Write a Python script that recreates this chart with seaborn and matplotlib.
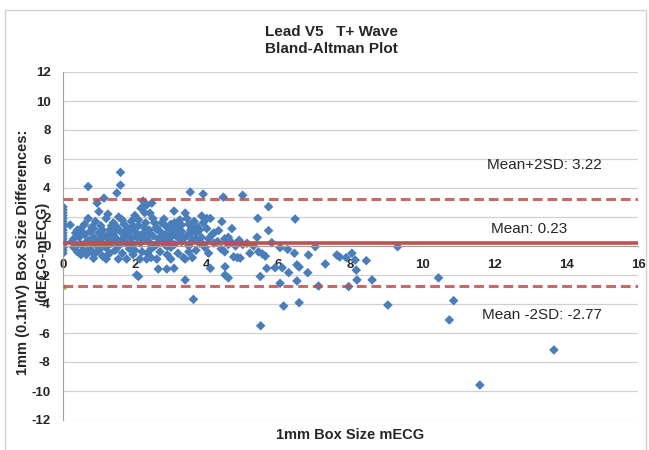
import matplotlib
matplotlib.use("Agg")
import matplotlib.pyplot as plt
import seaborn as sns
import pandas as pd
from matplotlib.patches import Rectangle

# 数据：平均值(mECG) 与 差值(dECG-mECG)
x_zero = [0] * 17
y_zero = [2.7, 2.5, 2.3, 2.1, 1.9, 1.7, 1.5, 1.3, 1.1, 0.9, 0.7, 0.5, 0.3, 0.1, -0.1, -0.3, -0.5]

x_cluster = [0.2, 0.25, 0.3, 0.35, 0.4, 0.45, 0.5, 0.5, 0.55, 0.6, 0.6, 0.65, 0.7, 0.7, 0.75, 0.75,
             0.8, 0.8, 0.85, 0.85, 0.9, 0.9, 0.95, 0.95, 1.0, 1.0, 1.0,
             1.05, 1.05, 1.1, 1.14, 1.15, 1.2, 1.2, 1.25, 1.25, 1.3, 1.3, 1.35, 1.4, 1.4, 1.45,
             1.5, 1.5, 1.5, 1.54, 1.55, 1.6, 1.6, 1.6, 1.65, 1.65, 1.7, 1.7, 1.75, 1.77, 1.8, 1.8,
             1.85, 1.9, 1.9, 1.95, 1.95, 2.0, 2.0,
             2.05, 2.1, 2.05, 2.1, 2.14, 2.15, 2.17, 2.2, 2.23, 2.25, 2.27, 2.3, 2.33, 2.33, 2.35,
             2.4, 2.42, 2.45, 2.47, 2.5, 2.5, 2.55, 2.6, 2.61, 2.65, 2.65, 2.7, 2.7, 2.75, 2.8,
             2.81, 2.85, 2.89, 2.9, 2.95, 2.95, 3.0, 3.0,
             3.05, 3.09, 3.09, 3.1, 3.15, 3.2, 3.2, 3.25, 3.3, 3.3, 3.35, 3.4, 3.4, 3.45, 3.5,
             3.5, 3.54, 3.55, 3.6, 3.6, 3.63, 3.65, 3.7, 3.7, 3.75, 3.8, 3.86, 3.85, 3.9, 3.9,
             3.95, 4.0, 4.0,
             4.05, 4.1, 4.1, 4.15, 4.2, 4.33, 4.42, 4.46, 4.5, 4.5, 4.51, 4.51, 4.56, 4.6, 4.6,
             4.67, 4.75, 4.8, 4.85, 4.93, 5.0, 5.0,
             0.3, 0.4, 0.55, 0.65, 0.7, 0.8, 0.9, 1.1, 1.15, 1.25, 1.35, 1.45, 1.55, 1.6, 1.75,
             1.85, 1.95, 2.0, 2.1, 2.2, 2.25, 2.35, 2.4, 2.55, 2.6, 2.75, 2.85, 2.9, 3.0, 3.1,
             3.2, 3.35, 3.45, 3.5, 3.6, 3.7, 3.8, 3.9, 4.05, 4.2, 4.3, 4.4, 4.6, 4.7, 4.9,
             1.2, 2.45, 3.0, 3.4, 0.5,
             0.35, 0.6, 0.85, 1.05, 1.3, 1.45, 1.7, 1.9, 2.15, 2.4, 2.6, 2.85, 3.15, 3.3, 3.55]
y_cluster = [1.45, 0.3, -0.1, 0.9, -0.4, 0.6, 1.2, 0.1, -0.3, 0.8, 1.5, -0.6, 4.1, 0.4, 1.0, -0.2,
             0.2, 1.3, -0.85, 0.6, -0.5, 1.7, 2.96, 0.0, 2.37, 0.9, -0.3,
             1.4, 0.3, -0.7, 3.3, 0.7, 1.9, -0.1, 2.2, 0.5, 1.1, -0.5, 0.2, 1.6, 0.8, -0.3,
             3.65, 1.3, 0.4, -0.9, 0.0, 5.08, 4.2, 1.0, 1.8, -0.5, 0.6, 1.5, 0.2, -0.9, 1.2, 0.9,
             -0.2, 0.5, 1.7, 0.1, -0.6, 1.0, 2.1,
             -2.0, -2.1, 0.6, 1.4, -0.9, 0.2, 2.6, -0.4, 3.1, 0.9, 2.3, 1.6, 2.83, -0.9, 0.4,
             1.1, 2.27, -0.2, 2.96, 0.7, 1.9, 0.0, 1.3, -0.9, -1.59, 0.5, 1.0, -0.4, 1.6, 0.2,
             1.86, 0.8, -1.59, -0.6, 1.2, 0.4, 1.5, -0.1,
             0.9, 2.41, -1.54, 0.1, 1.3, -0.5, 0.6, 1.8, 0.3, 1.0, -0.8, 2.27, -2.34, 0.7, 1.5,
             0.0, 3.72, 1.1, -0.8, 0.4, -3.68, 1.7, 0.9, -0.3, 1.3, 0.2, 2.07, 0.6, 3.58, 1.6,
             -0.1, 1.9, 1.2,
             0.5, 1.9, -1.54, 0.8, 0.2, 1.06, 1.68, 3.37, 0.5, -0.4, -1.43, -2.0, 0.3, -2.2, 0.1,
             0.3, -0.75, 0.0, -0.8, -0.83, 3.5, 0.1,
             0.5, 1.1, 0.9, 0.2, 1.9, -0.4, 0.4, 1.1, 0.0, -0.6, 1.4, 0.6, 2.0, 0.3, 1.1,
             0.7, 1.4, -0.3, 1.8, 0.6, 1.3, -0.5, 0.8, 1.6, 0.1, 0.5, 1.4, 0.0, 0.6, 1.6,
             1.1, 0.5, 1.9, -0.4, 1.3, 0.5, 1.1, 0.1, -0.5, 0.9, 0.3, -0.2, 0.6, 1.2, 0.4,
             -0.9, -0.8, -0.9, -0.9, -0.6,
             0.0, 0.15, 1.2, 0.55, 0.85, 1.05, 0.35, 1.25, 0.75, 0.25, 1.15, 0.05, 0.7, 1.45, 0.85]

x_tail = [5.12, 5.2, 5.3, 5.4, 5.42, 5.44, 5.49, 5.5, 5.55, 5.63, 5.67, 5.72, 5.72, 5.81, 5.9,
          6.04, 6.04, 6.1, 6.14, 6.25, 6.28, 6.44, 6.46, 6.51, 6.51, 6.57, 6.57, 6.81, 6.83,
          7.02, 7.11, 7.3, 7.62, 7.7, 7.88, 7.95, 8.04, 8.13, 8.16, 8.18, 8.44, 8.6, 9.04,
          9.31, 10.45, 10.75, 10.87, 11.6, 13.66]
y_tail = [0.19, -0.5, 0.0, 0.6, 1.91, -0.4, -2.1, -5.5, -0.55, -0.7, -1.54, 2.71, 1.06, 0.23, -1.5,
          -0.11, -2.57, -1.5, -4.14, -0.23, -1.84, -0.5, 1.86, -1.3, -2.41, -1.45, -3.91, -1.84, -0.62,
          -0.05, -2.76, -1.24, -0.62, -0.76, -0.8, -2.8, -0.5, -0.97, -1.66, -2.34, -1.01, -2.34, -4.07,
          -0.05, -2.2, -5.1, -3.77, -9.59, -7.17]

mean_diff = 0.23
upper_loa = 3.22
lower_loa = -2.77

df = pd.DataFrame({
    "mECG": x_zero + x_cluster + x_tail,
    "diff": y_zero + y_cluster + y_tail,
})

sns.set_style("white")
plt.rcParams["font.family"] = ["Liberation Sans", "DejaVu Sans"]
plt.rcParams["axes.unicode_minus"] = False

fig = plt.figure(figsize=(6.49, 4.5), dpi=100)
ax = fig.add_axes([63 / 649, 30 / 450, 575 / 649, 348 / 450])

sns.scatterplot(data=df, x="mECG", y="diff", marker="D", s=24, color="#4A7EBB",
                edgecolor="none", linewidth=0, ax=ax, zorder=2, legend=False)
ax.scatter([0], [lower_loa], marker="^", s=14, color="#9BBB59", zorder=3)

red = "#C0504D"
ax.plot([0, 16], [mean_diff, mean_diff], color=red, lw=2.6, zorder=3)
ax.plot([0, 16], [upper_loa, upper_loa], color=red, lw=2.2, ls=(0, (3.2, 1.6)), alpha=0.85, zorder=3)
ax.plot([0, 16], [lower_loa, lower_loa], color=red, lw=2.2, ls=(0, (3.2, 1.6)), alpha=0.85, zorder=3)

ax.text(11.8, 5.6, "Mean+2SD: 3.22", fontsize=11, va="center", ha="left", color="#262626")
ax.text(11.9, 1.15, "Mean: 0.23", fontsize=11, va="center", ha="left", color="#262626")
ax.text(11.65, -4.75, "Mean -2SD: -2.77", fontsize=11, va="center", ha="left", color="#262626")

ax.set_xlim(0, 16)
ax.set_ylim(-12, 12)
ax.set_xticks(range(0, 17, 2))
ax.set_yticks(range(-12, 13, 2))
ax.yaxis.grid(True, color="#D0D0D0", lw=0.9)
ax.xaxis.grid(False)
ax.set_axisbelow(True)

for s in ["top", "right"]:
    ax.spines[s].set_visible(False)
ax.spines["left"].set_color("#A0A0A0")
ax.spines["bottom"].set_position(("data", 0))
ax.spines["bottom"].set_color("#A0A0A0")

ax.tick_params(axis="both", direction="out", length=5, width=0.8, color="#A0A0A0",
               labelsize=9.5, pad=4)
for lab in ax.get_xticklabels() + ax.get_yticklabels():
    lab.set_fontweight("bold")
ax.set_xlabel("")
ax.set_ylabel("")

fig.suptitle("Lead V5   T+ Wave\nBland-Altman Plot", x=331 / 649, y=1 - 25 / 450,
             fontsize=11, fontweight="bold", va="top", color="#262626", linespacing=1.25)
fig.text(350 / 649, 1 - 435 / 450, "1mm Box Size mECG", ha="center", va="center",
         fontsize=10.5, fontweight="bold", color="#262626")
fig.text(33 / 649, 1 - 252 / 450, "1mm (0.1mV) Box Size Differences:\n(dECG-mECG)",
         rotation=90, ha="center", va="center", multialignment="center",
         fontsize=10.5, fontweight="bold", color="#262626", linespacing=1.5)

fig.patches.append(Rectangle((5 / 649, -0.02), 641 / 649, 1 - 10 / 450 + 0.02,
                             transform=fig.transFigure, fill=False,
                             edgecolor="#D0D0D0", lw=1))

fig.savefig("out.png", dpi=100)
